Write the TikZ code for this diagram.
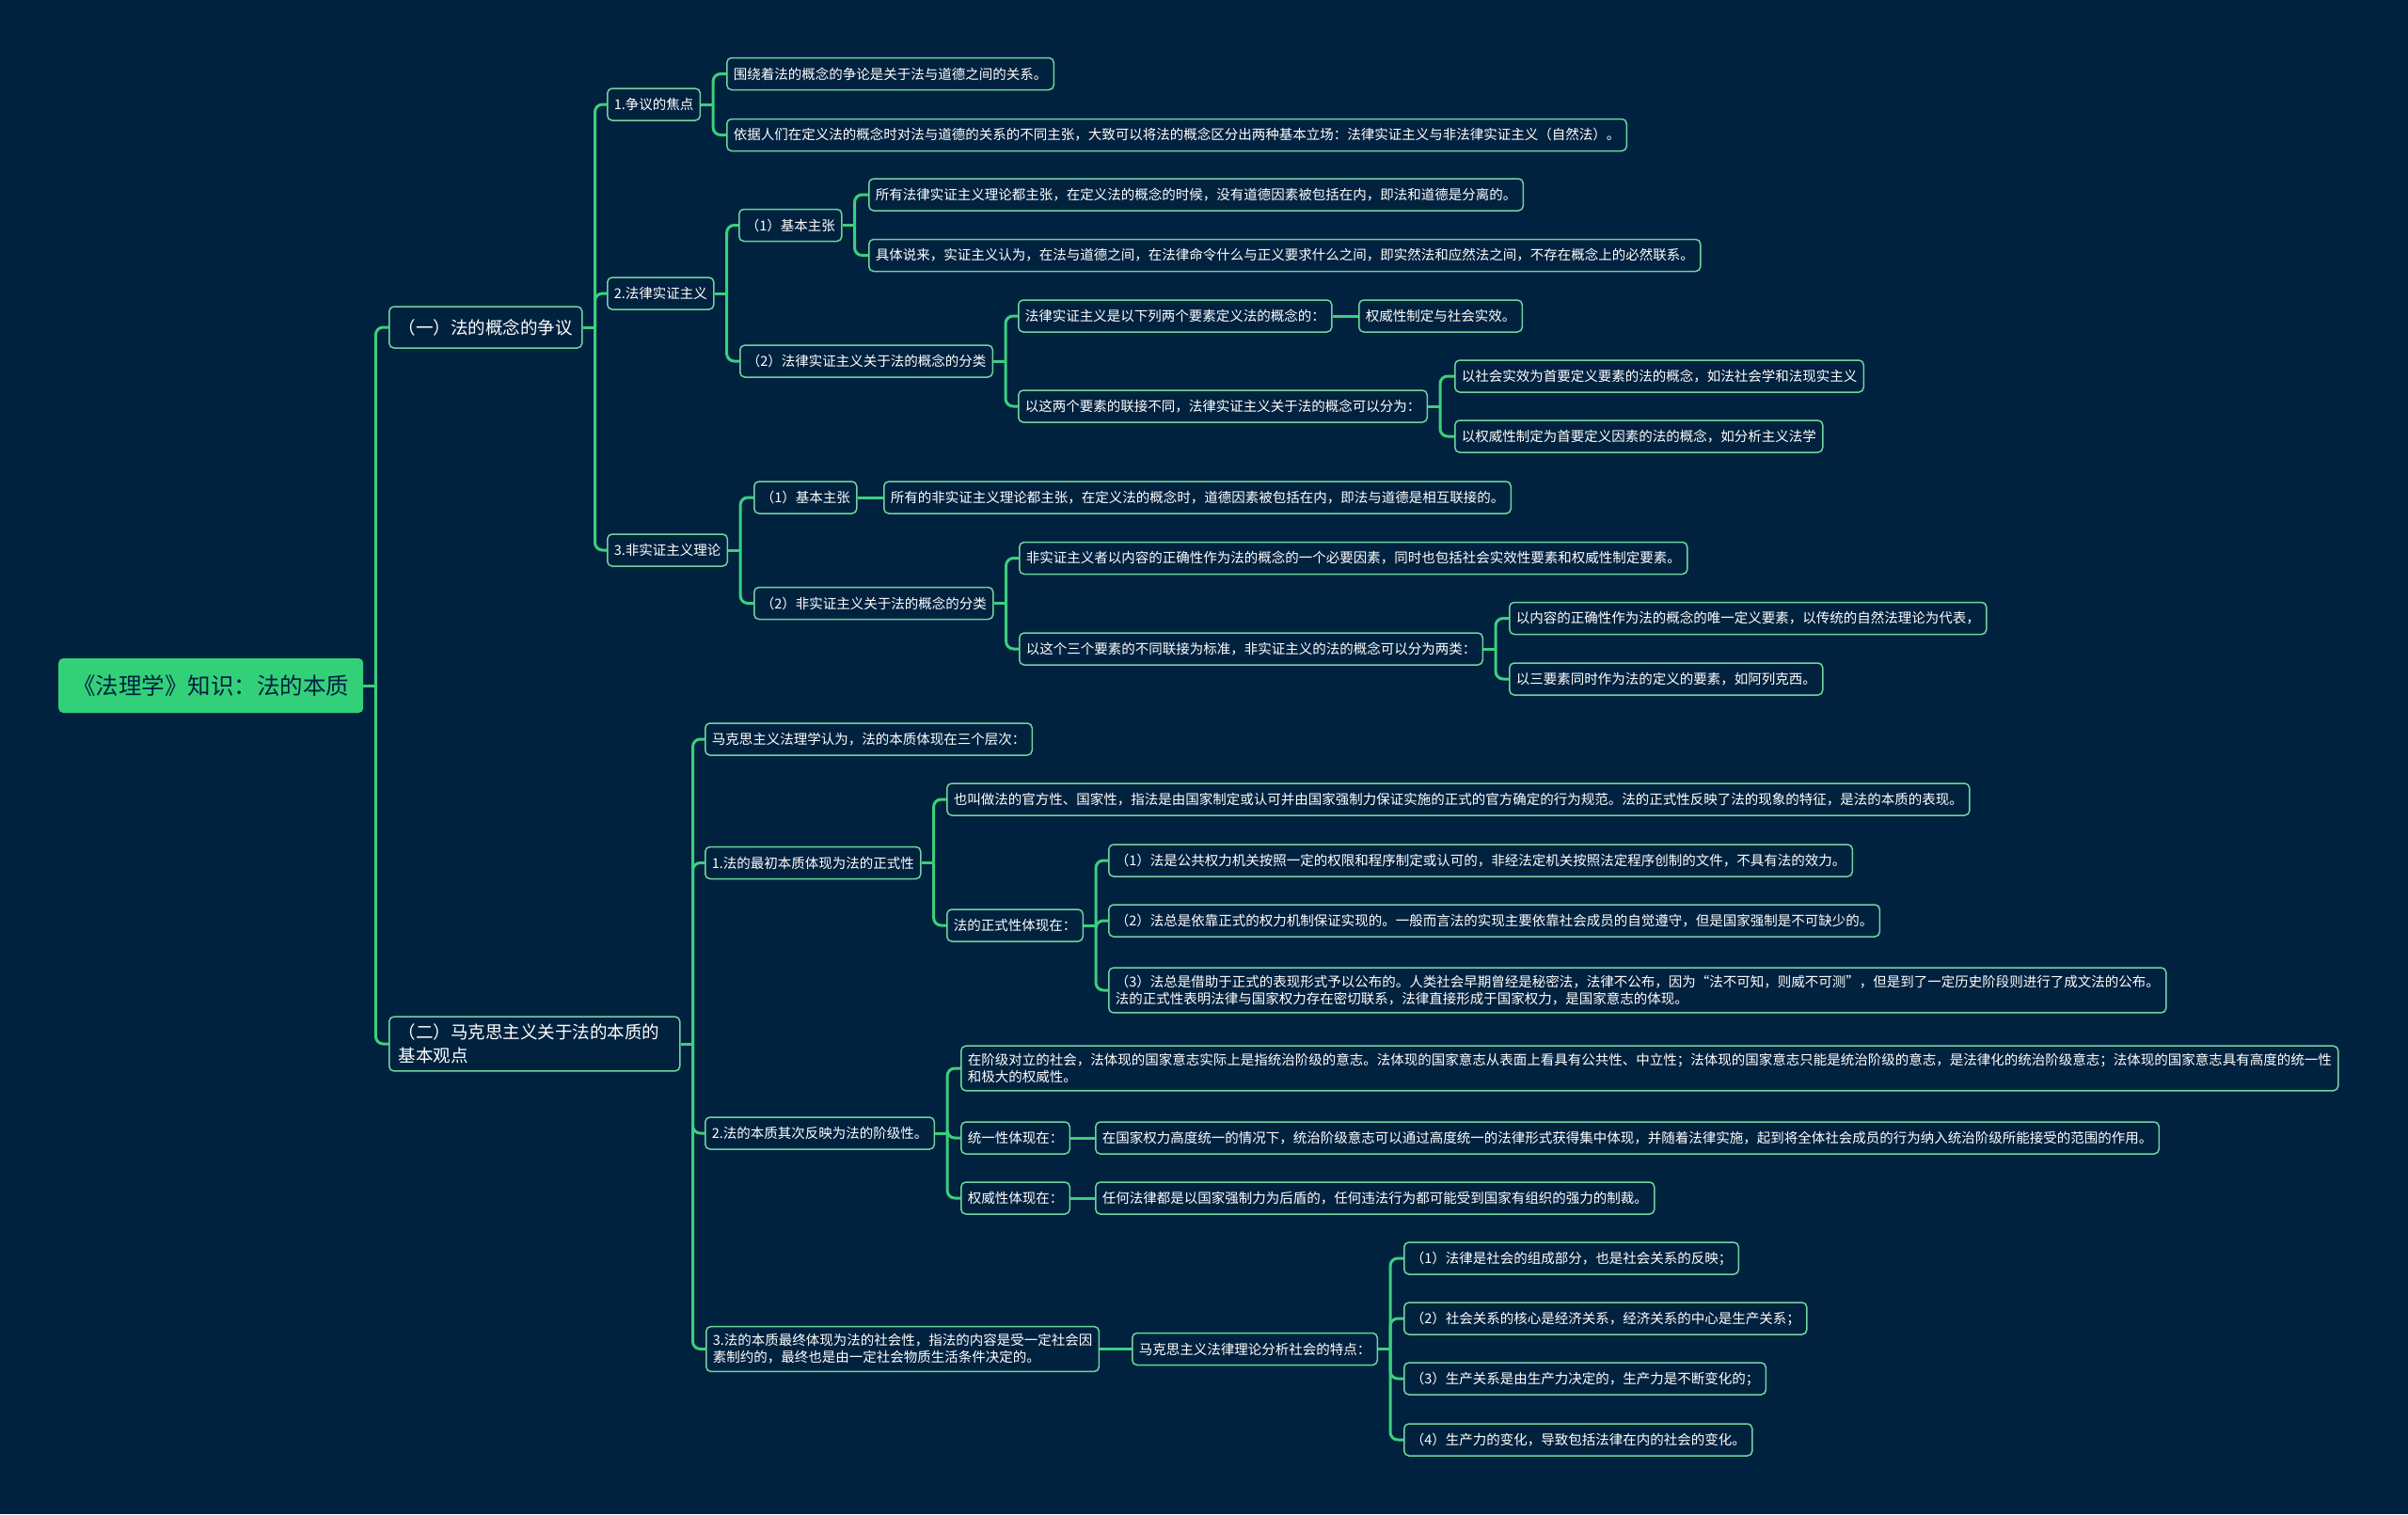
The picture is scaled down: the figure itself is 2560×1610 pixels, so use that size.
\documentclass[tikz,border=0pt]{standalone}
\usepackage{fontspec}
\setmainfont{Noto Sans CJK SC}
\definecolor{bg}{HTML}{01223F}
\definecolor{linkgreen}{HTML}{3BCF7E}
\definecolor{mint}{HTML}{6FD3A0}
\definecolor{rootgreen}{HTML}{33D07A}
\tikzset{
  leaf/.style={draw=mint, line width=1.5pt, rounded corners=5pt, fill=bg, text=white,
    font=\fontsize{14.5}{18}\selectfont, inner xsep=7pt, inner ysep=8pt,
    minimum height=34pt, anchor=west, align=left},
  topic/.style={leaf, font=\fontsize{18.5}{24.5}\selectfont, inner xsep=10pt, minimum height=44pt},
  rootbox/.style={fill=rootgreen, text=bg, rounded corners=5pt, font=\fontsize{24.5}{28}\selectfont,
    inner xsep=15pt, minimum height=58pt, anchor=west},
  link/.style={draw=linkgreen, line width=3pt, rounded corners=8pt},
}
\begin{document}
\begin{tikzpicture}[x=1pt, y=-1pt]
  \fill[bg] (0,0) rectangle (2560,1610);
  \useasboundingbox (0,0) rectangle (2560,1610);
  % root and main topics
  \node[rootbox] (root) at (62,729) {《法理学》知识：法的本质};
  \node[topic] (dispute) at (413,348) {（一）法的概念的争议};
  \node[topic, text width=289pt] (marx) at (413,1110) {（二）马克思主义关于法的本质的\\基本观点};
  % (一) the dispute
  \node[leaf] (focus) at (645,111) {1.争议的焦点};
  \node[leaf] (focusA) at (772,78.5) {围绕着法的概念的争论是关于法与道德之间的关系。};
  \node[leaf] (focusB) at (772,143.5) {依据人们在定义法的概念时对法与道德的关系的不同主张，大致可以将法的概念区分出两种基本立场：法律实证主义与非法律实证主义（自然法）。};
  \node[leaf] (posit) at (645,312) {2.法律实证主义};
  \node[leaf] (positBasic) at (785,239.5) {（1）基本主张};
  \node[leaf] (positBasicA) at (923,207) {所有法律实证主义理论都主张，在定义法的概念的时候，没有道德因素被包括在内，即法和道德是分离的。};
  \node[leaf] (positBasicB) at (923,271.5) {具体说来，实证主义认为，在法与道德之间，在法律命令什么与正义要求什么之间，即实然法和应然法之间，不存在概念上的必然联系。};
  \node[leaf] (positKind) at (786,384) {（2）法律实证主义关于法的概念的分类};
  \node[leaf] (positKindA) at (1082,336) {法律实证主义是以下列两个要素定义法的概念的：};
  \node[leaf] (positKindAx) at (1444,336) {权威性制定与社会实效。};
  \node[leaf] (positKindB) at (1082,432) {以这两个要素的联接不同，法律实证主义关于法的概念可以分为：};
  \node[leaf] (positKindB1) at (1546,400) {以社会实效为首要定义要素的法的概念，如法社会学和法现实主义};
  \node[leaf] (positKindB2) at (1546,464) {以权威性制定为首要定义因素的法的概念，如分析主义法学};
  \node[leaf] (nonpos) at (645,585) {3.非实证主义理论};
  \node[leaf] (nonposBasic) at (801,529) {（1）基本主张};
  \node[leaf] (nonposBasicA) at (939,529) {所有的非实证主义理论都主张，在定义法的概念时，道德因素被包括在内，即法与道德是相互联接的。};
  \node[leaf] (nonposKind) at (801,641.5) {（2）非实证主义关于法的概念的分类};
  \node[leaf] (nonposKindA) at (1083,593.5) {非实证主义者以内容的正确性作为法的概念的一个必要因素，同时也包括社会实效性要素和权威性制定要素。};
  \node[leaf] (nonposKindB) at (1083,690) {以这个三个要素的不同联接为标准，非实证主义的法的概念可以分为两类：};
  \node[leaf] (nonposKindB1) at (1604,657.5) {以内容的正确性作为法的概念的唯一定义要素，以传统的自然法理论为代表，};
  \node[leaf] (nonposKindB2) at (1604,722) {以三要素同时作为法的定义的要素，如阿列克西。};
  % (二) the Marxist view
  \node[leaf] (levels) at (749,786) {马克思主义法理学认为，法的本质体现在三个层次：};
  \node[leaf] (formal) at (749,917.5) {1.法的最初本质体现为法的正式性};
  \node[leaf] (formalA) at (1006,850) {也叫做法的官方性、国家性，指法是由国家制定或认可并由国家强制力保证实施的正式的官方确定的行为规范。法的正式性反映了法的现象的特征，是法的本质的表现。};
  \node[leaf] (formalIn) at (1006,984) {法的正式性体现在：};
  \node[leaf] (formalIn1) at (1178,915) {（1）法是公共权力机关按照一定的权限和程序制定或认可的，非经法定机关按照法定程序创制的文件，不具有法的效力。};
  \node[leaf] (formalIn2) at (1178,979) {（2）法总是依靠正式的权力机制保证实现的。一般而言法的实现主要依靠社会成员的自觉遵守，但是国家强制是不可缺少的。};
  \node[leaf] (formalIn3) at (1178,1053) {（3）法总是借助于正式的表现形式予以公布的。人类社会早期曾经是秘密法，法律不公布，因为“法不可知，则威不可测”，但是到了一定历史阶段则进行了成文法的公布。\\法的正式性表明法律与国家权力存在密切联系，法律直接形成于国家权力，是国家意志的体现。};
  \node[leaf] (klass) at (749,1205) {2.法的本质其次反映为法的阶级性。};
  \node[leaf] (klassA) at (1021,1136) {在阶级对立的社会，法体现的国家意志实际上是指统治阶级的意志。法体现的国家意志从表面上看具有公共性、中立性；法体现的国家意志只能是统治阶级的意志，是法律化的统治阶级意志；法体现的国家意志具有高度的统一性\\和极大的权威性。};
  \node[leaf] (unity) at (1021,1210) {统一性体现在：};
  \node[leaf] (unityA) at (1164,1210) {在国家权力高度统一的情况下，统治阶级意志可以通过高度统一的法律形式获得集中体现，并随着法律实施，起到将全体社会成员的行为纳入统治阶级所能接受的范围的作用。};
  \node[leaf] (auth) at (1021,1274) {权威性体现在：};
  \node[leaf] (authA) at (1164,1274) {任何法律都是以国家强制力为后盾的，任何违法行为都可能受到国家有组织的强力的制裁。};
  \node[leaf] (social) at (750,1434.5) {3.法的本质最终体现为法的社会性，指法的内容是受一定社会因\\素制约的，最终也是由一定社会物质生活条件决定的。};
  \node[leaf] (socialFeat) at (1203,1434.5) {马克思主义法律理论分析社会的特点：};
  \node[leaf] (socialFeat1) at (1492,1338) {（1）法律是社会的组成部分，也是社会关系的反映；};
  \node[leaf] (socialFeat2) at (1492,1402) {（2）社会关系的核心是经济关系，经济关系的中心是生产关系；};
  \node[leaf] (socialFeat3) at (1492,1466) {（3）生产关系是由生产力决定的，生产力是不断变化的；};
  \node[leaf] (socialFeat4) at (1492,1531) {（4）生产力的变化，导致包括法律在内的社会的变化。};
  % connectors
  \foreach \p in {root,dispute,focus,posit,positBasic,positKind,positKindB,nonpos,nonposKind,nonposKindB,marx,formal,formalIn,klass,socialFeat}
    \draw[link] (\p.east) -- ++(13,0) coordinate (\p-j);
  \foreach \p/\c in {root/dispute, root/marx, dispute/focus, dispute/posit, dispute/nonpos,
      focus/focusA, focus/focusB, posit/positBasic, posit/positKind,
      positBasic/positBasicA, positBasic/positBasicB, positKind/positKindA, positKind/positKindB,
      positKindB/positKindB1, positKindB/positKindB2, nonpos/nonposBasic, nonpos/nonposKind,
      nonposKind/nonposKindA, nonposKind/nonposKindB, nonposKindB/nonposKindB1, nonposKindB/nonposKindB2,
      marx/levels, marx/formal, marx/klass, marx/social, formal/formalA, formal/formalIn,
      formalIn/formalIn1, formalIn/formalIn2, formalIn/formalIn3, klass/klassA, klass/unity, klass/auth,
      socialFeat/socialFeat1, socialFeat/socialFeat2, socialFeat/socialFeat3, socialFeat/socialFeat4}
    \draw[link] (\p-j) |- (\c.west);
  \foreach \p/\c in {positKindA/positKindAx, nonposBasic/nonposBasicA, unity/unityA, auth/authA, social/socialFeat}
    \draw[link] (\p.east) -- (\c.west);
\end{tikzpicture}
\end{document}
